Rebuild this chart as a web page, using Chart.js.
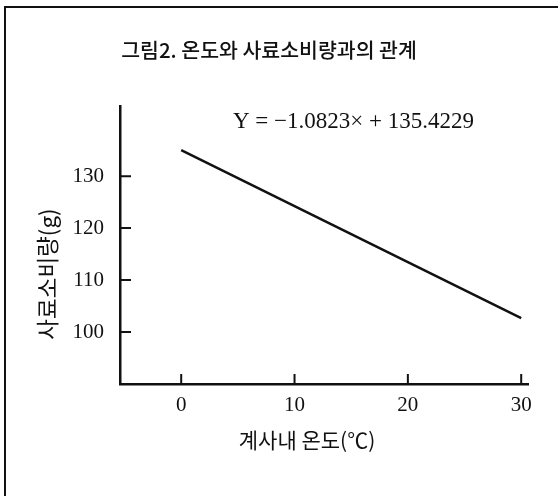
<!DOCTYPE html>
<html>
<head>
<meta charset="utf-8">
<script src="https://cdn.jsdelivr.net/npm/chart.js@4.4.1/dist/chart.umd.min.js"></script>
<style>
  html, body { margin: 0; padding: 0; background: #fff; }
  #wrap { width: 558px; height: 496px; }
</style>
</head>
<body>
<div id="wrap"><canvas id="chart" width="558" height="496"></canvas></div>
<script>
// data
const temps = [0, 30];
const feedIntake = [135.0, 102.7];
const xTickValues = [0, 10, 20, 30];
const yTickValues = [100, 110, 120, 130];

const titleText = '그림2. 온도와 사료소비량과의 관계';
const equationText = 'Y = −1.0823× + 135.4229';
const xTitle = '계사내 온도(℃)';
const yTitle = '사료소비량(g)';

const serif = '"Liberation Serif", "DejaVu Serif", serif';
const korean = '"Noto Sans CJK KR", "Noto Sans", sans-serif';

// frame, inward tick marks and the free-standing texts
const decorations = {
    id: 'decorations',
    afterDraw(chart) {
        const ctx = chart.ctx;
        const area = chart.chartArea;
        const xs = chart.scales.x;
        const ys = chart.scales.y;
        ctx.save();
        ctx.strokeStyle = '#111';

        // page frame (top + left only)
        ctx.lineWidth = 2;
        ctx.beginPath();
        ctx.moveTo(5, 496);
        ctx.lineTo(5, 7);
        ctx.lineTo(558, 7);
        ctx.stroke();

        // tick marks pointing into the plot
        ctx.lineWidth = 2;
        ctx.beginPath();
        xTickValues.forEach(v => {
            const px = xs.getPixelForValue(v);
            ctx.moveTo(px, area.bottom);
            ctx.lineTo(px, area.bottom - 10);
        });
        yTickValues.forEach(v => {
            const py = ys.getPixelForValue(v);
            ctx.moveTo(area.left, py);
            ctx.lineTo(area.left + 11, py);
        });
        ctx.stroke();

        ctx.fillStyle = '#111';
        ctx.textBaseline = 'middle';

        // title
        ctx.font = '500 20.5px ' + korean;
        ctx.textAlign = 'center';
        ctx.fillText(titleText, 269, 50);

        // regression equation
        ctx.font = '23px ' + serif;
        ctx.textAlign = 'left';
        ctx.fillText(equationText, 233, 122);

        // x axis title
        ctx.font = '21px ' + korean;
        ctx.textAlign = 'center';
        ctx.fillText(xTitle, 307, 440);

        // y axis title, rotated
        ctx.translate(47, 274);
        ctx.rotate(-Math.PI / 2);
        ctx.font = '22.5px ' + korean;
        ctx.fillText(yTitle, 0, 0);
        ctx.restore();
    }
};

new Chart(document.getElementById('chart'), {
    type: 'line',
    data: {
        datasets: [{
            data: temps.map((t, i) => ({ x: t, y: feedIntake[i] })),
            borderColor: '#111',
            borderWidth: 2.5,
            pointRadius: 0,
            tension: 0,
        }],
    },
    options: {
        responsive: false,
        animation: false,
        layout: { padding: { left: 0, top: 106, right: 30, bottom: 0 } },
        plugins: {
            legend: { display: false },
            tooltip: { enabled: false },
        },
        scales: {
            x: {
                type: 'linear',
                min: -5.4,
                max: 30.6,
                afterBuildTicks: (s) => { s.ticks = xTickValues.map(v => ({ value: v })); },
                afterFit: (s) => { s.height = 112; },
                grid: { display: false, drawTicks: false },
                border: { display: true, color: '#111', width: 2.5 },
                ticks: {
                    padding: 9,
                    color: '#111',
                    font: { family: serif, size: 21 },
                    maxRotation: 0,
                },
            },
            y: {
                min: 90,
                max: 143.5,
                afterBuildTicks: (s) => { s.ticks = yTickValues.map(v => ({ value: v })); },
                afterFit: (s) => { s.width = 120; },
                grid: { display: false, drawTicks: false },
                border: { display: true, color: '#111', width: 2.5 },
                ticks: {
                    padding: 16,
                    color: '#111',
                    font: { family: serif, size: 21 },
                },
            },
        },
    },
    plugins: [decorations],
});
</script>
</body>
</html>
